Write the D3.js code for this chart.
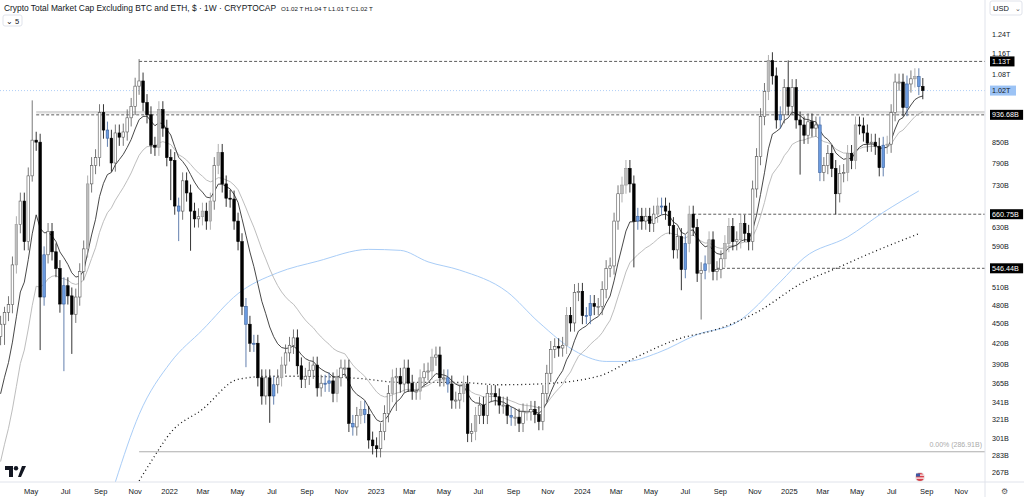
<!DOCTYPE html>
<html><head><meta charset="utf-8">
<script src="https://cdn.jsdelivr.net/npm/d3@7"></script>
<style>
body{margin:0;background:#fff;font-family:"Liberation Sans",Arial,sans-serif}
svg{display:block}
</style></head><body>
<svg id="chart" width="1024" height="497"></svg>
<script>
// weekly closes, billions USD (first candle week of 2021-03-08)
var closes = [449,468,481,553,637,692,600,756,857,851, 494,573,622,579,546,482,514,496,465,494,
  540,585,735,784,806,944,888,863,791,879, 866,882,927,965,1036,1055,978,937,842,836,
  954,894,806,798,680,668,743,712,668,650, 655,668,645,692,784,821,735,699,697,645,600,
  478,449,420,420,372,349,372,349,363,372, 389,406,417,428,388,370,374,382,389,359,365,
  365,368,352,372,385,385,317,313,326,333, 327,299,293,290,308,328,352,372,374,364,
  385,365,355,355,372,380,381,400,403,372, 372,364,344,344,352,364,306,308,326,338,
  326,352,352,348,338,338,326,324,324,317, 330,330,333,327,319,352,378,411,415,413,
  417,463,451,502,504,463,463,483,478,478, 507,546,551,645,710,732,776,735,645,656,
  645,656,640,661,680,680,668,635,583,611, 544,596,661,631,537,542,555,604,540,544,
  565,596,633,600,604,640,618,600,722,809, 931,1017,1133,1074,920,937,1031,965,1031,920,
  904,872,914,894,904,765,784,818,776,710, 762,765,818,798,904,901,879,848,851,839,
  778,842,845,944,1051,1051,961,1044,1063,1071, 1035,1020];
var firstOpen = 430;
// candles drawn in blue / gray in the reference
var blueIdx = [11,16,27,45,62,64,69,82,83,89,92,113,129,148,149,161,167,173,178,197,207,223,229,232];
var grayIdx = [4,22,40,51,53,55,71,85,91,99,106,109,117,120,133,143,157,158,166,174,179,183,184,187,194,214,216,224,231];
// wick sizes in % beyond the body: [upper, lower]; others default
var wickDefault = [3, 3];
var wicks = {1:[2,7],8:[15,2],10:[3,17],16:[3,21],18:[3,13],35:[8,3],43:[3,13],45:[3,10],48:[3,13],
  62:[3,14],68:[3,9],100:[3,11],160:[3,15],172:[3,7],177:[3,15],199:[10,3],202:[3,16],211:[3,7],194:[2,3]};
// long moving averages: [week index, value B]
var ma50 = [[29,258],[35,327],[43,393],[51,440],[60,500],[70,538],[80,560],[93,584],[101,582],[108,559],
  [116,543],[128,503],[136,452],[146,406],[153,394],[158,394],[166,406],[176,433],[186,452],[197,521],
  [203,567],[214,610],[223,665],[232,717]];
var ma200 = [[35,259],[38,277],[43,307],[51,333],[60,370],[68,374],[76,374],[91,371],[101,366],[116,366],
  [126,363],[136,364],[151,374],[161,401],[171,426],[181,441],[191,468],[203,521],[211,546],[220,577],[232,617]];
var levels = [{v:1130, label:"1.13T", from:35}, {v:936.68, label:"936.68B", from:9},
  {v:660.75, label:"660.75B", from:175}, {v:546.44, label:"546.44B", from:181}];
var yTicks = [267,283,301,321,341,365,390,420,450,480,510,590,630,730,790,850,1080,1160,1240];
var yTickLabels = ["267B","283B","301B","321B","341B","365B","390B","420B","450B","480B","510B","590B","630B","730B","790B","850B","1.08T","1.16T","1.24T"];

var W = 985, H = 482;
var svg = d3.select("#chart");
var t0 = new Date(2021, 2, 8);
function wk(i){ return d3.timeWeek.offset(t0, i); }
var x = d3.scaleTime().domain([new Date(2021,2,7), new Date(2025,11,13)]).range([0, W]);
var y = d3.scaleLog().domain([258, 1402]).range([H, 0]);

var data = closes.map(function(c, i){
  var o = i === 0 ? firstOpen : closes[i-1];
  var w = wicks[i] || wickDefault;
  return {i:i, o:o, c:c, h:Math.max(o,c)*(1+w[0]/100), l:Math.min(o,c)*(1-w[1]/100)};
});

function ema(n, seed){
  var a = 2/(n+1), v = seed;
  return closes.map(function(c){ v = v + a*(c - v); return v; });
}
var fast = ema(10, 330), slow = ema(21, 260);

var g = svg.append("g");
// horizontal lines
g.append("line").attr("x1",0).attr("x2",W).attr("y1",y(1020)).attr("y2",y(1020))
  .attr("stroke","#9cc3f5").attr("stroke-dasharray","1,2").attr("stroke-width",0.8);
g.append("line").attr("x1",x(wk(9))).attr("x2",W).attr("y1",y(945)).attr("y2",y(945))
  .attr("stroke","#d9d9d9").attr("stroke-width",2.5);
levels.forEach(function(l){
  g.append("line").attr("x1",x(wk(l.from))).attr("x2",W).attr("y1",y(l.v)).attr("y2",y(l.v))
    .attr("stroke","#333").attr("stroke-dasharray","3,2").attr("stroke-width",0.8);
});
g.append("line").attr("x1",x(wk(35))).attr("x2",W).attr("y1",y(286.91)).attr("y2",y(286.91))
  .attr("stroke","#999").attr("stroke-width",0.8);
g.append("text").attr("x",982).attr("y",y(286.91)-5).attr("text-anchor","end")
  .attr("font-size",7).attr("fill","#aaa").text("0.00% (286.91B)");

var line = d3.line().x(function(d){return x(wk(d[0]));}).y(function(d){return y(d[1]);}).curve(d3.curveMonotoneX);
g.append("path").attr("d", line(ma50)).attr("fill","none").attr("stroke","#a9cdf7").attr("stroke-width",1);
g.append("path").attr("d", line(ma200)).attr("fill","none").attr("stroke","#111").attr("stroke-width",1.3).attr("stroke-dasharray","1,3");
var ml = d3.line().x(function(d,i){return x(wk(i));}).y(function(d){return y(d);});
g.append("path").attr("d", ml(slow)).attr("fill","none").attr("stroke","#b5b5b5").attr("stroke-width",0.9);
g.append("path").attr("d", ml(fast)).attr("fill","none").attr("stroke","#333").attr("stroke-width",0.9);

// candles
var bw = 2.6;
var cg = g.selectAll("g.c").data(data).enter().append("g");
function col(d){
  if (blueIdx.indexOf(d.i) >= 0) return {f:"#6b9be0", s:"#3a5f9a"};
  if (d.c < d.o) return {f:"#000", s:"#000"};
  if (grayIdx.indexOf(d.i) >= 0) return {f:"#bdbdbd", s:"#9a9a9a"};
  return {f:"#fff", s:"#555"};
}
cg.append("line").attr("x1",function(d){return x(wk(d.i));}).attr("x2",function(d){return x(wk(d.i));})
  .attr("y1",function(d){return y(d.h);}).attr("y2",function(d){return y(d.l);})
  .attr("stroke",function(d){return col(d).s;}).attr("stroke-width",0.8);
cg.append("rect").attr("x",function(d){return x(wk(d.i)) - bw/2;}).attr("width",bw)
  .attr("y",function(d){return y(Math.max(d.o,d.c));})
  .attr("height",function(d){return Math.max(1, y(Math.min(d.o,d.c)) - y(Math.max(d.o,d.c)));})
  .attr("fill",function(d){return col(d).f;}).attr("stroke",function(d){return col(d).s;}).attr("stroke-width",0.6);

// axes frame
svg.append("line").attr("x1",W).attr("x2",W).attr("y1",0).attr("y2",497).attr("stroke","#e0e3eb");
svg.append("line").attr("x1",0).attr("x2",1024).attr("y1",H).attr("y2",H).attr("stroke","#e0e3eb");

var ya = svg.append("g").attr("transform","translate(990,0)");
yTicks.forEach(function(v,i){
  ya.append("text").attr("x",2).attr("y",y(v)+2.5).attr("font-size",7.2).attr("fill","#131722").text(yTickLabels[i]);
});
levels.forEach(function(l){
  ya.append("rect").attr("x",0).attr("y",y(l.v)-5).attr("width",l.label.length*4.3+3).attr("height",10).attr("fill","#000");
  ya.append("text").attr("x",2).attr("y",y(l.v)+2.5).attr("font-size",7.2).attr("fill","#fff").text(l.label);
});
ya.append("rect").attr("x",0).attr("y",y(1020)-5).attr("width",26).attr("height",10).attr("fill","#9cc3f5");
ya.append("text").attr("x",2).attr("y",y(1020)+2.5).attr("font-size",7.2).attr("fill","#131722").text("1.02T");
ya.append("rect").attr("x",0).attr("y",1).attr("width",32).attr("height",14).attr("fill","#fff").attr("stroke","#e0e3eb").attr("rx",2);
ya.append("text").attr("x",3).attr("y",11).attr("font-size",7.5).attr("fill","#131722").text("USD");
ya.append("text").attr("x",25).attr("y",11).attr("font-size",7).attr("fill","#555").text("⌄");

// x axis labels
var xt = d3.timeMonth.every(2).range(new Date(2021,4,1), new Date(2025,11,2));
var xa = svg.append("g");
xt.forEach(function(d){
  var lab = d.getMonth() === 0 ? d3.timeFormat("%Y")(d) : d3.timeFormat("%b")(d);
  xa.append("text").attr("x",x(d)).attr("y",494).attr("text-anchor","middle")
    .attr("font-size",7.5).attr("fill","#131722").text(lab);
});

// header
svg.append("text").attr("x",4).attr("y",11).attr("font-size",8.6).attr("fill","#131722")
  .attr("textLength",272).attr("lengthAdjust","spacingAndGlyphs")
  .text("Crypto Total Market Cap Excluding BTC and ETH, $ · 1W · CRYPTOCAP");
svg.append("text").attr("x",281).attr("y",11).attr("font-size",6.2).attr("fill","#131722")
  .text("O1.02 T  H1.04 T  L1.01 T  C1.02 T");
svg.append("rect").attr("x",3).attr("y",15).attr("width",19).attr("height",11).attr("fill","#fff").attr("stroke","#e0e3eb").attr("rx",2);
svg.append("text").attr("x",6).attr("y",23.5).attr("font-size",7.5).attr("fill","#131722").text("⌄ 5");

// logo and flag
var lg = svg.append("g").attr("transform","translate(5,466)");
lg.append("path").attr("d","M0,0H8V11H4V4H0Z").attr("fill","#131722");
lg.append("circle").attr("cx",11).attr("cy",2.2).attr("r",2.2).attr("fill","#131722");
lg.append("path").attr("d","M13,11L17,0H21L16,11Z").attr("fill","#131722");
svg.append("circle").attr("cx",920).attr("cy",477).attr("r",5).attr("fill","#e8e8e8");
svg.append("circle").attr("cx",920).attr("cy",477).attr("r",4).attr("fill","#d7424b");
svg.append("rect").attr("x",916).attr("y",474.5).attr("width",8).attr("height",1.2).attr("fill","#fff");
svg.append("rect").attr("x",916).attr("y",477.5).attr("width",8).attr("height",1.2).attr("fill","#fff");
svg.append("path").attr("d","M916,473.5h4v3h-4Z").attr("fill","#3c5aa6");
svg.append("text").attr("x",1001).attr("y",494).attr("font-size",8).attr("fill","#555").text("⚙");
</script>
</body></html>
